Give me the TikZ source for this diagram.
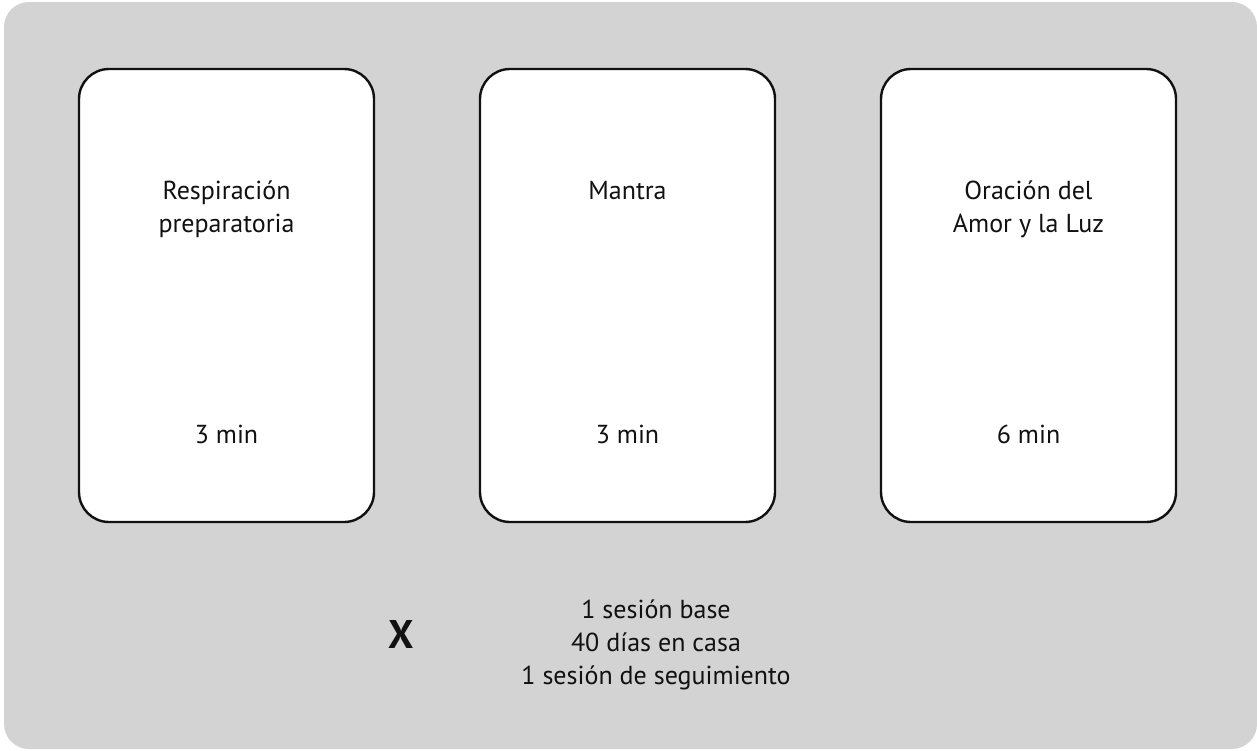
\documentclass[tikz,border=0pt]{standalone}
\usepackage{fontspec}
\setmainfont{PT Sans}
\usetikzlibrary{positioning}
\definecolor{panelgray}{HTML}{D3D3D3}
\definecolor{inkgray}{HTML}{111111}
\tikzset{
	panel/.style={fill=panelgray, draw=none, rounded corners=25pt},
	card/.append style={
		draw=inkgray,
		fill=white,
		line width=2.4pt,
		rounded corners=30pt,
		minimum width=295pt,
		minimum height=453pt,
		outer sep=0pt,
	},
	heading/.append style={
		align=center,
		text=inkgray,
		inner sep=0pt,
		font={\fontsize{26}{33}\selectfont}
	},
	duration/.append style={
		heading,
	},
	times/.append style={
		text=inkgray,
		inner sep=0pt,
		font={\fontsize{40}{42}\selectfont\bfseries}
	}
}

\begin{document}
\begin{tikzpicture}[x=1pt,y=-1pt]
\useasboundingbox (0,0) rectangle (1257,750);
\fill[panel] (4,2) rectangle (1257,749);

% the three practice cards
\node[card] (resp) at (226.5,295.5) {};
\node[card, right=106pt of resp] (mantra) {};
\node[card, right=106pt of mantra] (prayer) {};

\node[heading, below=112pt of resp.north] (resptitle) {Respiración\\preparatoria};
\node[heading, below=112pt of mantra.north] (mantratitle) {Mantra};
\node[heading, below=112pt of prayer.north] (prayertitle) {Oración del\\Amor y la Luz};

\node[duration, above=78pt of resp.south] (resptime) {3 min};
\node[duration, above=78pt of mantra.south] (mantratime) {3 min};
\node[duration, above=78pt of prayer.south] (prayertime) {6 min};

% repetitions
\node[times] (x) at (401,634) {X};
\node[heading] (plan) at (656,645) {1 sesión base\\40 días en casa\\1 sesión de seguimiento};
\end{tikzpicture}
\end{document}
